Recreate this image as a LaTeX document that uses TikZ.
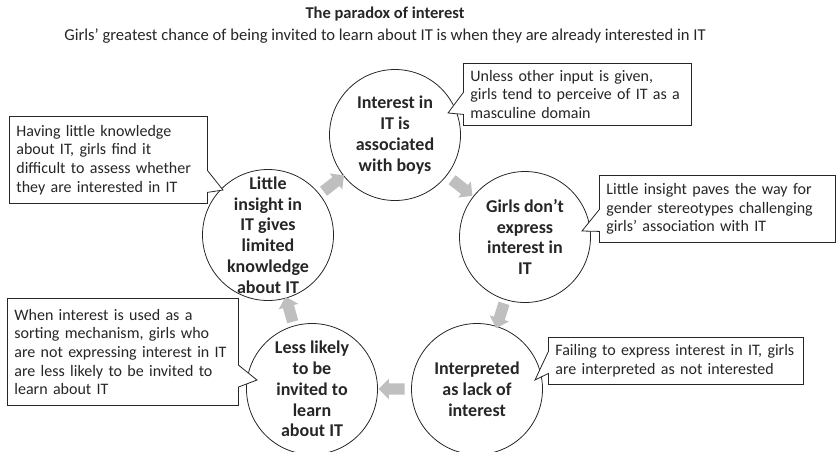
\documentclass[tikz,border=0pt]{standalone}
\usepackage{fontspec}
\setmainfont{Carlito}
\usetikzlibrary{positioning,calc,shapes.callouts,shapes.arrows}
\definecolor{inkgray}{RGB}{38,38,38}
\definecolor{arrowgray}{RGB}{191,191,191}
\tikzset{
  stage/.style={circle,draw=inkgray,line width=0.8pt,minimum size=131pt,
    inner sep=0pt},
  stagetxt/.style={font=\fontsize{18}{20.8}\selectfont\bfseries,
    align=center,text=inkgray,inner sep=0pt},
  note/.style={rectangle callout,draw=inkgray,line width=0.8pt,fill=white,
    anchor=north west,align=left,inner xsep=7pt,inner ysep=0pt,
    callout pointer width=22pt,font=\fontsize{16}{18.7}\selectfont,
    text=inkgray},
  cycarrow/.style={single arrow,fill=arrowgray,minimum height=26pt,
    minimum width=20pt,single arrow head extend=4.5pt,
    single arrow tip angle=90,inner xsep=0pt,inner ysep=5.5pt,
    sloped,allow upside down},
}
\begin{document}
\begin{tikzpicture}[x=1pt,y=-1pt]
  \useasboundingbox (0,0) rectangle (836,451);
  \node[font=\fontsize{16.5}{19}\selectfont\bfseries,text=inkgray] (title)
    at (385,14) {The paradox of interest};
  \node[font=\fontsize{16.6}{19}\selectfont,text=inkgray] (subtitle)
    at (385,36) {Girls’ greatest chance of being invited to learn about IT is when they are already interested in IT};
  % the five stages of the cycle
  \node[stage,label={[stagetxt]center:{Interest in\\IT is\\associated\\with boys}}]
    (boys) at (395,135) {};
  \node[stage,label={[stagetxt]center:{Girls don’t\\express\\interest in\\IT}}]
    (express) at (525,237) {};
  \node[stage,label={[stagetxt]center:{Interpreted\\as lack of\\interest}}]
    (lack) at (477,389) {};
  \node[stage,label={[stagetxt]center:{Less likely\\to be\\invited to\\learn\\about IT}}]
    (invited) at (312,389) {};
  \node[stage,label={[stagetxt]center:{Little\\insight in\\IT gives\\limited\\knowledge\\about IT}}]
    (insight) at (268,235) {};
  \path (boys) -- node[cycarrow] (a1) {} (express);
  \path (express) -- node[cycarrow] (a2) {} (lack);
  \path (lack) -- node[cycarrow] (a3) {} (invited);
  \path (invited) -- node[cycarrow] (a4) {} (insight);
  \path (insight) -- node[cycarrow] (a5) {} (boys);
  % explanations
  \node[note,text width=184pt,minimum height=87pt,
    callout absolute pointer={($(insight)+(-45,-45)$)}] (n1) at (9,116)
    {Having little knowledge\\about IT, girls find it\\difficult to assess whether\\they are interested in IT};
  \node[note,text width=214pt,minimum height=62pt,
    callout absolute pointer={($(boys)+(53,-22)$)}] (n2) at (463,63)
    {Unless other input is given,\\girls tend to perceive of IT as a\\masculine domain};
  \node[note,text width=222pt,minimum height=67pt,
    callout absolute pointer={($(express)+(57,-6)$)}] (n3) at (599,175)
    {Little insight paves the way for\\gender stereotypes challenging\\girls’ association with IT};
  \node[note,text width=217pt,minimum height=107pt,
    callout absolute pointer={($(invited)+(-55,-9)$)}] (n4) at (7,298)
    {When interest is used as a\\sorting mechanism, girls who\\are not expressing interest in IT\\are less likely to be invited to\\learn about IT};
  \node[note,text width=241pt,minimum height=47pt,
    callout absolute pointer={($(lack)+(58,-9)$)}] (n5) at (548,337)
    {Failing to express interest in IT, girls\\are interpreted as not interested};
\end{tikzpicture}
\end{document}
